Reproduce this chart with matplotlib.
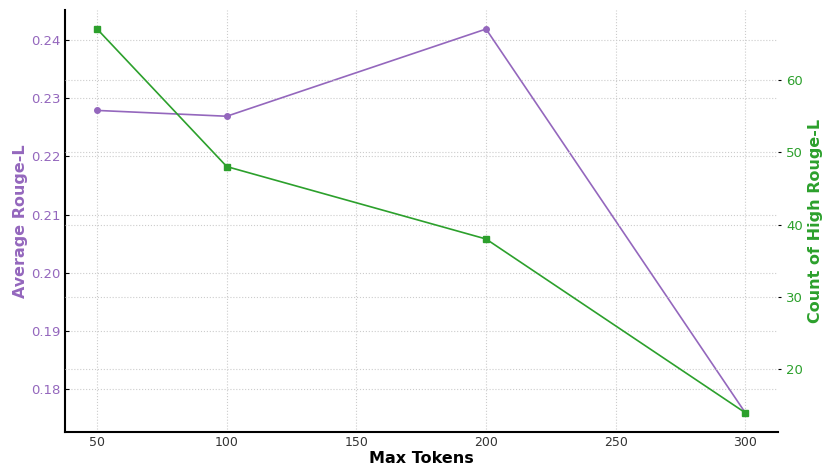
import matplotlib
matplotlib.use('Agg')
import matplotlib.pyplot as plt

max_tokens = [50, 100, 200, 300]
avg_rouge = [0.2279, 0.2269, 0.2419, 0.1759]
high_count = [67, 48, 38, 14]

purple = '#9467bd'
green = '#2ca02c'

fig, ax = plt.subplots(figsize=(8.3, 4.69), dpi=100)
fig.subplots_adjust(left=0.078, right=0.937, top=0.979, bottom=0.079)

ax.plot(max_tokens, avg_rouge, color=purple, marker='o', markersize=4, linewidth=1.2)
ax.set_xlabel('Max Tokens', fontsize=11.5, fontweight='bold', labelpad=1)
ax.set_ylabel('Average Rouge-L', fontsize=11.5, fontweight='bold', color=purple, labelpad=2)
ax.tick_params(axis='y', direction='in', colors='black', labelcolor=purple, labelsize=9.5, length=3, pad=3)
ax.tick_params(axis='x', colors='#333333', labelsize=9, length=0, pad=3)
ax.set_xticks([50, 100, 150, 200, 250, 300])
ax.grid(True, linestyle=':', color='#cccccc', linewidth=0.8)
for s in ['top', 'right']:
    ax.spines[s].set_visible(False)
for s in ['left', 'bottom']:
    ax.spines[s].set_linewidth(1.5)

ax2 = ax.twinx()
ax2.plot(max_tokens, high_count, color=green, marker='s', markersize=4, linewidth=1.2)
ax2.set_ylabel('Count of High Rouge-L', fontsize=11.5, fontweight='bold', color=green, labelpad=4)
ax2.tick_params(axis='y', colors='black', labelcolor=green, labelsize=9.5, length=2, pad=4)
ax2.grid(True, axis='y', linestyle=':', color='#cccccc', linewidth=0.8)
for s in ['top', 'right', 'left', 'bottom']:
    ax2.spines[s].set_visible(False)

fig.savefig('out.png', dpi=100)
